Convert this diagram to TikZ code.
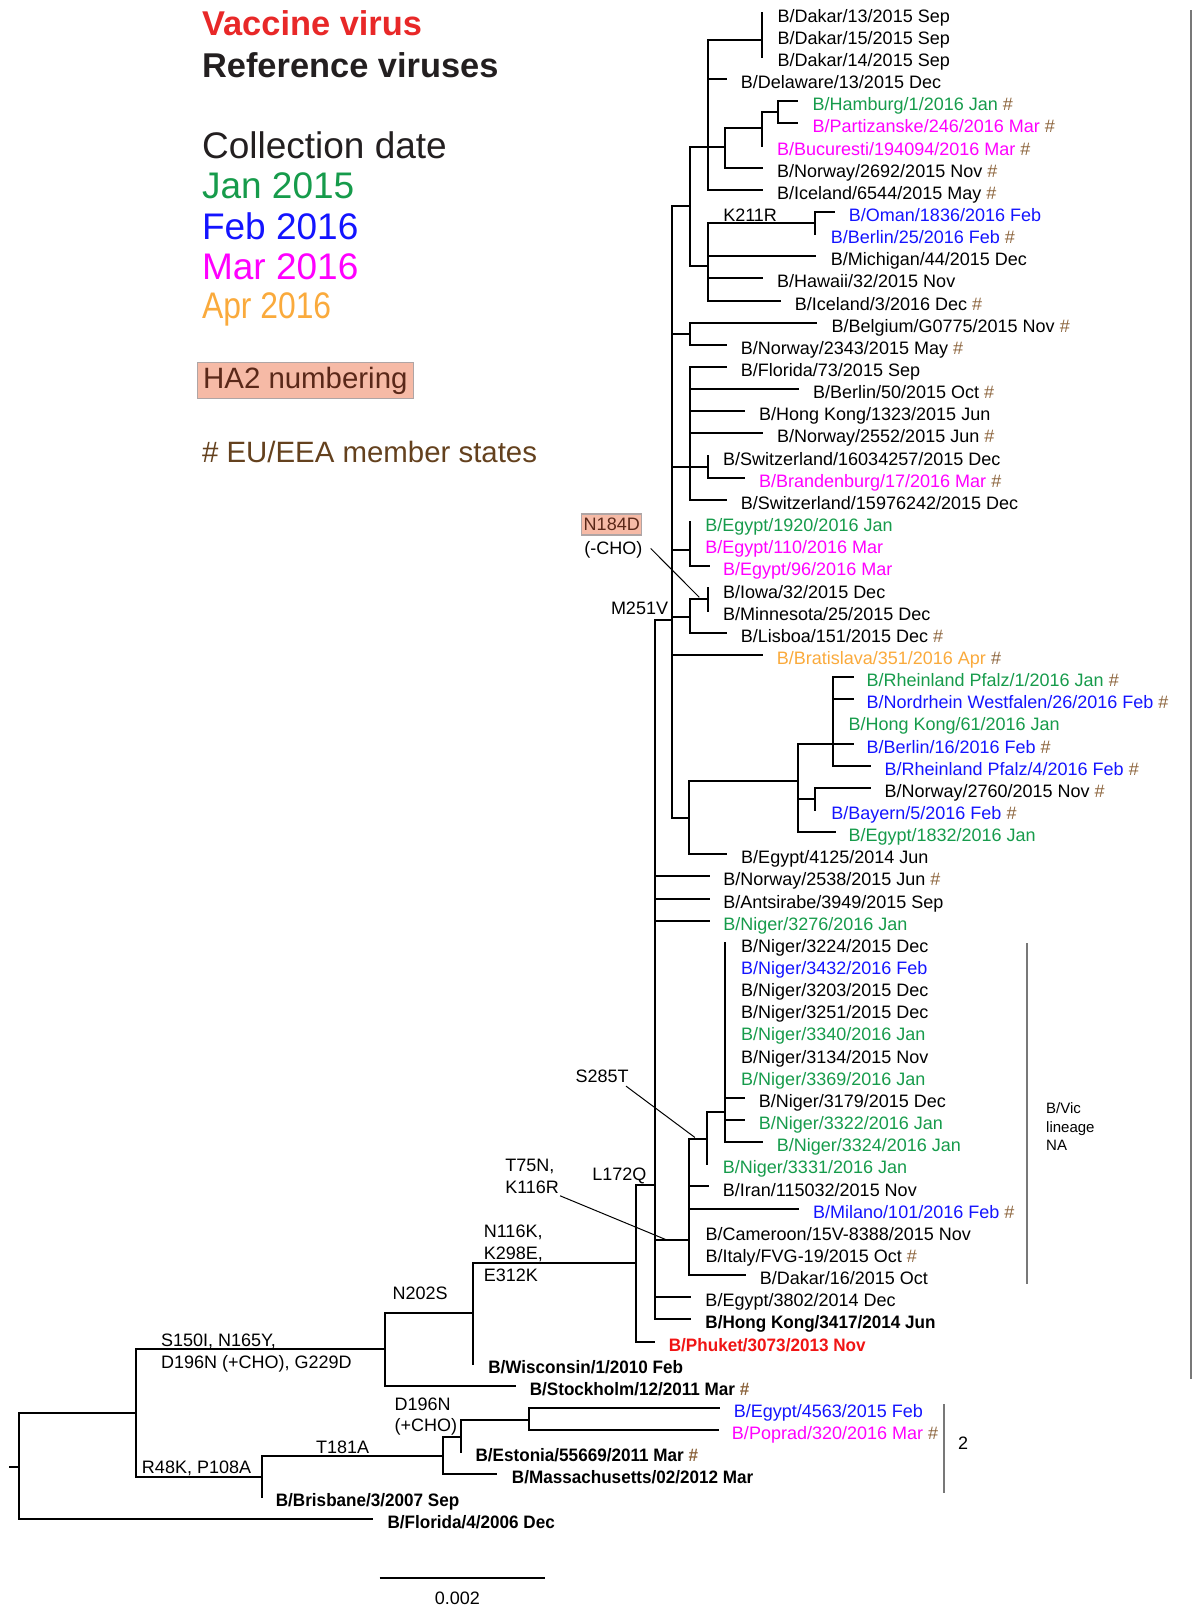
\documentclass[tikz,border=0pt]{standalone}
\usepackage{fontspec}
\usepackage{graphicx}
\setmainfont{Liberation Sans}
\definecolor{vgreen}{RGB}{22,155,75}
\definecolor{vblue}{RGB}{20,20,255}
\definecolor{vmag}{RGB}{255,0,255}
\definecolor{vorange}{RGB}{250,170,60}
\definecolor{vred}{RGB}{232,40,40}
\definecolor{pred}{RGB}{240,20,20}
\definecolor{hashc}{RGB}{140,100,60}
\definecolor{eutext}{RGB}{100,65,30}
\definecolor{boxfill}{RGB}{246,186,166}
\definecolor{boxdraw}{RGB}{175,165,165}
\definecolor{boxtext}{RGB}{90,40,25}
\definecolor{legdark}{RGB}{35,31,32}
\definecolor{gbarc}{RGB}{120,120,120}
\newcommand\rowy[1]{12.3+(#1-1)*21.57}
\newcommand\hs{\ {\color{hashc}\#}}
\newcommand\lf[4]{\node[leaf,text=#3] (l#1) at (#2,{\rowy{#1}+9.3}) {#4};}
\newcommand\lfb[4]{\node[leaf,text=#3] (l#1) at (#2,{\rowy{#1}+9.3}) {\scalebox{0.95}[1]{\bfseries #4}};}
\begin{document}
\begin{tikzpicture}[x=0.5133pt,y=-0.5133pt,
  br/.style={line width=1pt,black,line cap=rect},
  lead/.style={line width=0.5pt,black},
  gbar/.style={line width=1pt,gbarc},
  leaf/.style={anchor=base west,inner sep=0pt,font=\fontsize{9}{10}\selectfont},
  mut/.style={inner sep=0pt,font=\fontsize{9}{10}\selectfont,text=black},
  legbig/.style={anchor=base west,inner sep=0pt,font=\fontsize{18.5}{20}\selectfont},
  legbold/.style={anchor=base west,inner sep=0pt,font=\fontsize{17.2}{19}\selectfont\bfseries},
  legsmall/.style={anchor=base west,inner sep=0pt,font=\fontsize{14.7}{16}\selectfont},
  hbox/.style={draw=boxdraw,fill=boxfill,line width=0.6pt,text=boxtext,inner sep=0pt}]
\useasboundingbox (0,0) rectangle (1161,1568);

% ---------------- legend ----------------
\node[legbold,text=vred] (lgvac) at (196.4,34.7) {Vaccine virus};
\node[legbold,text=legdark] (lgref) at (196.4,75.3) {Reference viruses};
\node[legbig,text=legdark] (lgcol) at (196.4,154.8) {Collection date};
\node[legbig,text=vgreen] (lgjan) at (196.4,193.7) {Jan 2015};
\node[legbig,text=vblue] (lgfeb) at (196.4,233.0) {Feb 2016};
\node[legbig,text=vmag] (lgmar) at (196.4,272.6) {Mar 2016};
\node[legbig,text=vorange] (lgapr) at (196.4,309.9) {\scalebox{0.86}[1]{Apr 2016}};
\node[hbox,minimum width=108pt,minimum height=17.9pt,font=\fontsize{14.7}{16}\selectfont] (lgha) at (297.4,370.6) {HA2 numbering};
\node[legsmall,text=eutext] (lgeu) at (196.4,450.2) {\# EU/EEA member states};

% ---------------- top clade ----------------
\draw[br] (654.3,200.6) -- (654.3,797.1);
\draw[br] (654.3,200.6) -- (671.6,200.6);
\draw[br] (671.6,143.5) -- (671.6,258.8);
\draw[br] (671.6,143.5) -- (706.5,143.5);
\draw[br] (689.2,39) -- (689.2,{\rowy{9}});
\draw[br] (689.2,39) -- (741.8,39);
\draw[br] (741.8,{\rowy{1}}) -- (741.8,{\rowy{3}});
\draw[br] (689.2,{\rowy{4}}) -- (706.9,{\rowy{4}});
\draw[br] (706.5,125) -- (706.5,{\rowy{8}});
\draw[br] (706.5,125) -- (741.8,125);
\draw[br] (706.5,{\rowy{8}}) -- (741.8,{\rowy{8}});
\draw[br] (741.8,109.4) -- (741.8,{\rowy{7}});
\draw[br] (741.8,109.4) -- (758,109.4);
\draw[br] (758,{\rowy{5}}) -- (758,{\rowy{6}});
\draw[br] (758,{\rowy{5}}) -- (776.4,{\rowy{5}});
\draw[br] (758,{\rowy{6}}) -- (776.4,{\rowy{6}});
\draw[br] (689.2,{\rowy{9}}) -- (741.8,{\rowy{9}});
\draw[br] (671.6,258.8) -- (689.2,258.8);
\draw[br] (689.2,216.9) -- (689.2,{\rowy{14}});
\draw[br] (689.2,216.9) -- (794,216.9);
\draw[br] (794,{\rowy{10}}) -- (794,{\rowy{11}});
\draw[br] (794,{\rowy{10}}) -- (812.4,{\rowy{10}});
\draw[br] (689.2,{\rowy{12}}) -- (794,{\rowy{12}});
\draw[br] (689.2,{\rowy{13}}) -- (741.8,{\rowy{13}});
\draw[br] (689.2,{\rowy{14}}) -- (759.8,{\rowy{14}});
% Belgium
\draw[br] (654.3,325.3) -- (671.6,325.3);
\draw[br] (671.6,{\rowy{15}}) -- (671.6,{\rowy{16}});
\draw[br] (671.6,{\rowy{15}}) -- (795.1,{\rowy{15}});
\draw[br] (671.6,{\rowy{16}}) -- (706.9,{\rowy{16}});
% Florida
\draw[br] (654.3,454.5) -- (689.2,454.5);
\draw[br] (671.6,{\rowy{17}}) -- (671.6,{\rowy{23}});
\draw[br] (671.6,{\rowy{17}}) -- (706.9,{\rowy{17}});
\draw[br] (671.6,{\rowy{18}}) -- (777.1,{\rowy{18}});
\draw[br] (671.6,{\rowy{19}}) -- (724.9,{\rowy{19}});
\draw[br] (671.6,{\rowy{20}}) -- (742.5,{\rowy{20}});
\draw[br] (689.2,{\rowy{21}}) -- (689.2,{\rowy{22}});
\draw[br] (689.2,{\rowy{22}}) -- (724.9,{\rowy{22}});
\draw[br] (671.6,{\rowy{23}}) -- (706.9,{\rowy{23}});
% Egypt
\draw[br] (654.3,535.5) -- (671.6,535.5);
\draw[br] (671.6,{\rowy{24}}) -- (671.6,{\rowy{26}});
\draw[br] (671.6,{\rowy{26}}) -- (690.3,{\rowy{26}});
% Iowa / Lisboa
\draw[br] (654.3,600.5) -- (671.6,600.5);
\draw[br] (671.6,583) -- (671.6,{\rowy{29}});
\draw[br] (671.6,583) -- (689.9,583);
\draw[br] (689.9,{\rowy{27}}) -- (689.9,{\rowy{28}});
\draw[br] (671.6,{\rowy{29}}) -- (706.9,{\rowy{29}});
% Bratislava
\draw[br] (654.3,{\rowy{30}}) -- (742.3,{\rowy{30}});
% Rheinland clade
\draw[br] (654.3,797.1) -- (671.3,797.1);
\draw[br] (671.3,760.4) -- (671.3,{\rowy{39}});
\draw[br] (671.3,760.4) -- (777,760.4);
\draw[br] (671.3,{\rowy{39}}) -- (707.2,{\rowy{39}});
\draw[br] (777,{\rowy{34}}) -- (777,{\rowy{38}});
\draw[br] (777,{\rowy{34}}) -- (830.8,{\rowy{34}});
\draw[br] (811.7,{\rowy{31}}) -- (811.7,{\rowy{35}});
\draw[br] (811.7,{\rowy{31}}) -- (830.8,{\rowy{31}});
\draw[br] (811.7,{\rowy{32}}) -- (830.8,{\rowy{32}});
\draw[br] (811.7,{\rowy{35}}) -- (847.6,{\rowy{35}});
\draw[br] (777,778.5) -- (794.1,778.5);
\draw[br] (794.1,{\rowy{36}}) -- (794.1,{\rowy{37}});
\draw[br] (794.1,{\rowy{36}}) -- (847.6,{\rowy{36}});
\draw[br] (777,{\rowy{38}}) -- (812.9,{\rowy{38}});
% M251V / L172Q node
\draw[br] (637.5,604) -- (654.3,604);
\draw[br] (637.5,604) -- (637.5,{\rowy{60}});
\draw[br] (637.5,{\rowy{40}}) -- (690.4,{\rowy{40}});
\draw[br] (637.5,{\rowy{41}}) -- (690.4,{\rowy{41}});
\draw[br] (637.5,{\rowy{42}}) -- (690.4,{\rowy{42}});
\draw[br] (637.5,1208) -- (671.3,1208);
\draw[br] (637.5,{\rowy{59}}) -- (672.1,{\rowy{59}});
\draw[br] (637.5,{\rowy{60}}) -- (672.1,{\rowy{60}});
% Niger clade
\draw[br] (671.3,1109.4) -- (671.3,{\rowy{58}});
\draw[br] (671.3,1109.4) -- (688.7,1109.4);
\draw[br] (688.7,1083.4) -- (688.7,{\rowy{53}});
\draw[br] (688.7,1083.4) -- (705.9,1083.4);
\draw[br] (705.9,{\rowy{43}}) -- (705.9,{\rowy{52}});
\draw[br] (705.9,{\rowy{50}}) -- (724.5,{\rowy{50}});
\draw[br] (705.9,{\rowy{51}}) -- (724.5,{\rowy{51}});
\draw[br] (705.9,{\rowy{52}}) -- (742.1,{\rowy{52}});
\draw[br] (671.3,{\rowy{54}}) -- (689.9,{\rowy{54}});
\draw[br] (671.3,{\rowy{55}}) -- (777.5,{\rowy{55}});
\draw[br] (671.3,{\rowy{58}}) -- (725.6,{\rowy{58}});
% L172Q, N116K, root side
\draw[br] (619.5,1154.2) -- (637.5,1154.2);
\draw[br] (619.5,1154.2) -- (619.5,{\rowy{61}});
\draw[br] (619.5,{\rowy{61}}) -- (637,{\rowy{61}});
\draw[br] (460.2,1230.5) -- (619.5,1230.5);
\draw[br] (460.2,1230.5) -- (460.2,{\rowy{62}});
\draw[br] (374.6,1279.2) -- (460.2,1279.2);
\draw[br] (374.6,1279.2) -- (374.6,{\rowy{63}});
\draw[br] (374.6,{\rowy{63}}) -- (501.9,{\rowy{63}});
\draw[br] (132.3,1314.2) -- (374.6,1314.2);
\draw[br] (132.3,1314.2) -- (132.3,1438.9);
\draw[br] (18.6,1376.6) -- (132.3,1376.6);
\draw[br] (18.6,1376.6) -- (18.6,{\rowy{69}});
\draw[br] (18.6,{\rowy{69}}) -- (362.1,{\rowy{69}});
\draw[br] (9.3,1428.5) -- (18.6,1428.5);
\draw[br] (132.3,1438.9) -- (254.7,1438.9);
\draw[br] (254.7,1418.1) -- (254.7,{\rowy{68}});
\draw[br] (254.7,1418.1) -- (431.7,1418.1);
\draw[br] (431.7,1399.3) -- (431.7,{\rowy{67}});
\draw[br] (431.7,{\rowy{67}}) -- (483.3,{\rowy{67}});
\draw[br] (431.7,1399.3) -- (448.5,1399.3);
\draw[br] (448.5,1383.1) -- (448.5,{\rowy{66}});
\draw[br] (448.5,1383.1) -- (515.6,1383.1);
\draw[br] (515.6,{\rowy{64}}) -- (515.6,{\rowy{65}});
\draw[br] (515.6,{\rowy{64}}) -- (700.7,{\rowy{64}});
\draw[br] (515.6,{\rowy{65}}) -- (698.8,{\rowy{65}});

% bars
\draw[gbar] (1000,918.8) -- (1000,1250);
\draw[gbar] (919.3,1367.5) -- (919.3,1453.8);
\draw[gbar] (1159.5,10) -- (1159.5,1343);
\draw[line width=1.2pt] (369.6,1536.6) coordinate (sbl) -- (531.1,1536.6) coordinate (sbr);
\node[mut,anchor=base] (sbt) at (445.4,1563) {0.002};
\node[mut,anchor=base] (two) at (938,1411.5) {2};
\node[anchor=base west,inner sep=0pt,font=\fontsize{7.5}{8}\selectfont] (vic1) at (1018.5,1084.7) {B/Vic};
\node[anchor=base west,inner sep=0pt,font=\fontsize{7.5}{8}\selectfont] (vic2) at (1018.5,1102.6) {lineage};
\node[anchor=base west,inner sep=0pt,font=\fontsize{7.5}{8}\selectfont] (vic3) at (1018.5,1120.4) {NA};

% ---------------- mutation labels ----------------
\node[mut,anchor=base west] (mk211) at (704,215.7) {K211R};
\node[hbox,minimum width=30pt,minimum height=10.5pt,font=\fontsize{9}{10}\selectfont] (mn184) at (595.8,510.8) {N184D};
\node[mut,anchor=base] (mcho) at (597.4,540.4) {(-CHO)};
\node[mut,anchor=base east] (mm251) at (651,598.8) {M251V};
\node[mut,anchor=base east] (ms285) at (612.7,1054) {S285T};
\node[mut,anchor=base east] (ml172) at (630,1149.6) {L172Q};
\node[mut,anchor=base west] (mt75) at (491.7,1141.3) {T75N,};
\node[mut,anchor=base west] (mk116) at (491.7,1162.8) {K116R};
\node[mut,anchor=base west] (mn116) at (470.8,1204.8) {N116K,};
\node[mut,anchor=base west] (mk298) at (470.8,1226.3) {K298E,};
\node[mut,anchor=base west] (me312) at (470.8,1247.8) {E312K};
\node[mut,anchor=base west] (mn202) at (382,1266) {N202S};
\node[mut,anchor=base west] (ms150) at (156.5,1311.5) {S150I, N165Y,};
\node[mut,anchor=base west] (md196a) at (156.5,1332.6) {D196N (+CHO), G229D};
\node[mut,anchor=base west] (mr48) at (137.9,1434.8) {R48K, P108A};
\node[mut,anchor=base west] (mt181) at (307.5,1416) {T181A};
\node[mut,anchor=base west] (md196b) at (383.9,1373.8) {D196N};
\node[mut,anchor=base west] (mcho2) at (383.9,1394.3) {(+CHO)};

% leader lines
\coordinate (ldA1) at (633.7,534.1);
\coordinate (ldA2) at (681.1,581.8);
\coordinate (ldB1) at (609.7,1057.8);
\coordinate (ldB2) at (676.8,1107.8);
\coordinate (ldC1) at (545.5,1164.6);
\coordinate (ldC2) at (649.1,1207.5);
\draw[lead] (ldA1) -- (ldA2);
\draw[lead] (ldB1) -- (ldB2);
\draw[lead] (ldC1) -- (ldC2);

% ---------------- leaves ----------------
\lf{1}{757}{black}{B/Dakar/13/2015 Sep}
\lf{2}{757}{black}{B/Dakar/15/2015 Sep}
\lf{3}{757}{black}{B/Dakar/14/2015 Sep}
\lf{4}{721.2}{black}{B/Delaware/13/2015 Dec}
\lf{5}{791.1}{vgreen}{B/Hamburg/1/2016 Jan\hs}
\lf{6}{791.1}{vmag}{B/Partizanske/246/2016 Mar\hs}
\lf{7}{756.5}{vmag}{B/Bucuresti/194094/2016 Mar\hs}
\lf{8}{756.5}{black}{B/Norway/2692/2015 Nov\hs}
\lf{9}{756.5}{black}{B/Iceland/6544/2015 May\hs}
\lf{10}{826.4}{vblue}{B/Oman/1836/2016 Feb}
\lf{11}{808.7}{vblue}{B/Berlin/25/2016 Feb\hs}
\lf{12}{808.7}{black}{B/Michigan/44/2015 Dec}
\lf{13}{756.5}{black}{B/Hawaii/32/2015 Nov}
\lf{14}{773.8}{black}{B/Iceland/3/2016 Dec\hs}
\lf{15}{809.5}{black}{B/Belgium/G0775/2015 Nov\hs}
\lf{16}{721.2}{black}{B/Norway/2343/2015 May\hs}
\lf{17}{721.2}{black}{B/Florida/73/2015 Sep}
\lf{18}{791.4}{black}{B/Berlin/50/2015 Oct\hs}
\lf{19}{738.9}{black}{B/Hong Kong/1323/2015 Jun}
\lf{20}{756.5}{black}{B/Norway/2552/2015 Jun\hs}
\lf{21}{703.9}{black}{B/Switzerland/16034257/2015 Dec}
\lf{22}{738.9}{vmag}{B/Brandenburg/17/2016 Mar\hs}
\lf{23}{721.2}{black}{B/Switzerland/15976242/2015 Dec}
\lf{24}{686.6}{vgreen}{B/Egypt/1920/2016 Jan}
\lf{25}{686.6}{vmag}{B/Egypt/110/2016 Mar}
\lf{26}{703.9}{vmag}{B/Egypt/96/2016 Mar}
\lf{27}{703.9}{black}{B/Iowa/32/2015 Dec}
\lf{28}{703.9}{black}{B/Minnesota/25/2015 Dec}
\lf{29}{721.2}{black}{B/Lisboa/151/2015 Dec\hs}
\lf{30}{756.2}{vorange}{B/Bratislava/351/2016 Apr\hs}
\lf{31}{843.6}{vgreen}{B/Rheinland Pfalz/1/2016 Jan\hs}
\lf{32}{843.6}{vblue}{B/Nordrhein Westfalen/26/2016 Feb\hs}
\lf{33}{826.0}{vgreen}{B/Hong Kong/61/2016 Jan}
\lf{34}{843.6}{vblue}{B/Berlin/16/2016 Feb\hs}
\lf{35}{861.1}{vblue}{B/Rheinland Pfalz/4/2016 Feb\hs}
\lf{36}{861.1}{black}{B/Norway/2760/2015 Nov\hs}
\lf{37}{809.3}{vblue}{B/Bayern/5/2016 Feb\hs}
\lf{38}{826.0}{vgreen}{B/Egypt/1832/2016 Jan}
\lf{39}{721.5}{black}{B/Egypt/4125/2014 Jun}
\lf{40}{704}{black}{B/Norway/2538/2015 Jun\hs}
\lf{41}{704}{black}{B/Antsirabe/3949/2015 Sep}
\lf{42}{704}{vgreen}{B/Niger/3276/2016 Jan}
\lf{43}{721.5}{black}{B/Niger/3224/2015 Dec}
\lf{44}{721.5}{vblue}{B/Niger/3432/2016 Feb}
\lf{45}{721.5}{black}{B/Niger/3203/2015 Dec}
\lf{46}{721.5}{black}{B/Niger/3251/2015 Dec}
\lf{47}{721.5}{vgreen}{B/Niger/3340/2016 Jan}
\lf{48}{721.5}{black}{B/Niger/3134/2015 Nov}
\lf{49}{721.5}{vgreen}{B/Niger/3369/2016 Jan}
\lf{50}{738.7}{black}{B/Niger/3179/2015 Dec}
\lf{51}{738.7}{vgreen}{B/Niger/3322/2016 Jan}
\lf{52}{756.2}{vgreen}{B/Niger/3324/2016 Jan}
\lf{53}{703.7}{vgreen}{B/Niger/3331/2016 Jan}
\lf{54}{703.7}{black}{B/Iran/115032/2015 Nov}
\lf{55}{791.6}{vblue}{B/Milano/101/2016 Feb\hs}
\lf{56}{686.9}{black}{B/Cameroon/15V-8388/2015 Nov}
\lf{57}{686.9}{black}{B/Italy/FVG-19/2015 Oct\hs}
\lf{58}{739.6}{black}{B/Dakar/16/2015 Oct}
\lf{59}{686.7}{black}{B/Egypt/3802/2014 Dec}
\lfb{60}{686.7}{black}{B/Hong Kong/3417/2014 Jun}
\lfb{61}{651}{pred}{B/Phuket/3073/2013 Nov}
\lfb{62}{475.2}{black}{B/Wisconsin/1/2010 Feb}
\lfb{63}{515.6}{black}{B/Stockholm/12/2011 Mar\hs}
\lf{64}{714.3}{vblue}{B/Egypt/4563/2015 Feb}
\lf{65}{712.5}{vmag}{B/Poprad/320/2016 Mar\hs}
\lfb{66}{462.8}{black}{B/Estonia/55669/2011 Mar\hs}
\lfb{67}{498.2}{black}{B/Massachusetts/02/2012 Mar}
\lfb{68}{268.3}{black}{B/Brisbane/3/2007 Sep}
\lfb{69}{377}{black}{B/Florida/4/2006 Dec}
\end{tikzpicture}
\end{document}
